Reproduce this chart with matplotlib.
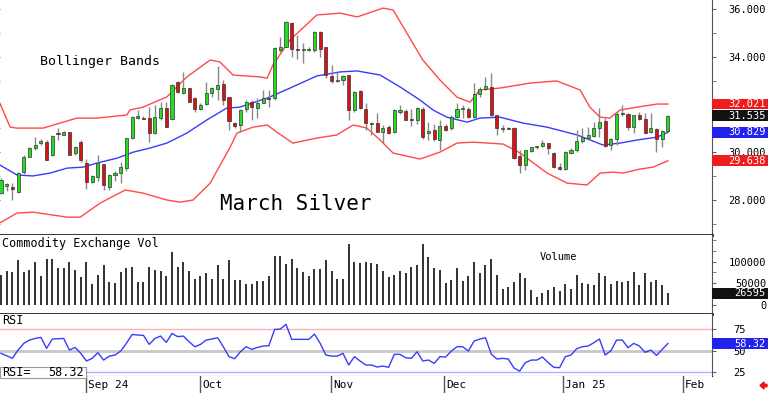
import numpy as np
import matplotlib
matplotlib.use("Agg")
import matplotlib.pyplot as plt
import matplotlib.transforms as mtransforms
from matplotlib.patches import Rectangle, FancyArrow
from matplotlib.ticker import MultipleLocator, FixedLocator, FormatStrFormatter

plt.rcParams['font.family'] = ['DejaVu Sans Mono', 'DejaVu Sans']

# daily candles, March silver (trading-day index 0..117)
opens = [28.27, 28.58, 28.52, 28.31, 29.18, 29.81, 30.16, 30.37, 30.44, 29.88,
         30.80, 30.72, 30.83, 29.95, 30.44, 29.55, 28.73, 28.94, 29.49, 28.55,
         29.04, 29.11, 29.32, 30.58, 31.45, 31.45, 31.42, 30.79, 31.42, 31.84,
         31.38, 32.96, 32.47, 32.68, 32.29, 31.80, 32.01, 32.47, 32.65, 32.87,
         32.30, 31.22, 31.14, 31.80, 32.12, 31.87, 32.08, 32.28, 32.26, 34.30,
         34.43, 35.41, 34.35, 34.27, 34.30, 34.27, 35.04, 34.43, 33.20, 32.99,
         33.01, 33.24, 31.77, 32.57, 31.80, 31.20, 31.21, 30.86, 31.07, 30.86,
         31.70, 31.73, 31.38, 31.35, 31.80, 30.80, 30.93, 30.51, 31.11, 31.00,
         31.49, 31.80, 31.80, 31.49, 32.43, 32.64, 32.75, 31.56, 30.98, 31.03,
         31.00, 29.85, 29.46, 30.03, 30.20, 30.27, 30.37, 29.95, 29.39, 29.28,
         29.98, 30.09, 30.48, 30.58, 30.68, 31.03, 31.31, 30.30, 30.54, 31.60,
         31.60, 31.05, 31.56, 31.38, 30.84, 30.96, 30.55, 30.90]
highs = [28.90, 28.72, 28.72, 29.18, 29.90, 30.20, 30.65, 30.55, 30.50, 30.70,
         31.00, 30.87, 30.85, 30.25, 30.50, 29.70, 29.05, 29.90, 29.50, 29.10,
         29.20, 29.60, 30.60, 31.50, 31.75, 31.50, 31.90, 31.98, 32.10, 32.10,
         32.85, 32.98, 33.38, 32.70, 32.30, 32.05, 32.96, 32.75, 33.60, 33.05,
         32.30, 31.25, 31.80, 32.20, 32.20, 32.26, 32.61, 32.61, 34.40, 34.85,
         35.50, 35.48, 34.90, 34.57, 34.40, 35.08, 35.10, 34.43, 33.66, 33.38,
         33.24, 33.26, 32.56, 32.60, 32.05, 31.28, 31.63, 31.14, 31.12, 31.80,
         32.00, 31.80, 31.80, 31.90, 31.90, 31.28, 31.20, 31.35, 31.20, 31.55,
         32.05, 31.98, 31.90, 32.89, 32.75, 33.17, 33.31, 31.58, 31.14, 31.07,
         31.05, 30.09, 30.09, 30.23, 30.25, 30.51, 30.40, 30.00, 29.53, 30.05,
         30.16, 30.93, 31.00, 31.07, 31.28, 31.84, 31.42, 30.58, 31.70, 31.98,
         31.63, 31.56, 31.70, 31.63, 31.63, 31.00, 30.93, 31.56]
lows = [28.25, 28.35, 28.00, 28.30, 29.10, 29.78, 30.10, 30.30, 29.65, 29.85,
        30.50, 30.70, 29.88, 29.90, 29.60, 28.45, 28.70, 28.80, 28.41, 28.41,
        28.80, 28.69, 29.20, 30.55, 31.40, 31.38, 30.44, 30.76, 31.35, 31.05,
        31.35, 32.50, 32.45, 32.10, 31.70, 31.78, 32.00, 32.30, 32.20, 31.98,
        30.92, 31.00, 30.85, 31.70, 31.35, 31.42, 32.05, 31.91, 32.20, 34.20,
        34.40, 34.00, 33.90, 33.73, 34.25, 34.20, 34.00, 33.10, 32.90, 32.96,
        32.82, 31.35, 31.70, 31.80, 30.93, 30.72, 30.84, 30.37, 30.77, 30.80,
        31.60, 31.33, 31.10, 31.20, 30.55, 30.51, 30.47, 30.09, 30.88, 30.95,
        31.45, 31.42, 31.42, 31.42, 32.30, 32.60, 31.52, 30.72, 30.84, 30.97,
        29.70, 29.11, 29.25, 30.00, 30.15, 30.20, 29.93, 29.35, 29.25, 29.25,
        29.93, 30.02, 30.37, 30.55, 30.65, 30.65, 30.23, 30.10, 30.30, 31.52,
        30.93, 30.80, 31.35, 30.79, 30.80, 30.02, 30.23, 30.86]
closes = [28.83, 28.66, 28.45, 29.11, 29.81, 30.16, 30.30, 30.47, 29.67, 30.68,
          30.76, 30.83, 29.90, 30.20, 29.67, 28.76, 29.00, 29.53, 28.62, 29.04,
          29.14, 29.39, 30.58, 31.46, 31.52, 31.42, 30.79, 31.49, 31.87, 31.07,
          32.82, 32.54, 32.68, 32.12, 31.80, 32.00, 32.47, 32.68, 32.82, 32.19,
          31.31, 31.08, 31.77, 32.12, 31.91, 32.08, 32.26, 32.25, 34.36, 34.43,
          35.48, 34.32, 34.30, 34.32, 34.33, 35.04, 34.34, 33.24, 32.99, 33.03,
          33.20, 31.77, 32.54, 31.84, 31.21, 31.24, 30.86, 31.00, 30.79, 31.77,
          31.77, 31.35, 31.35, 31.84, 30.62, 30.90, 30.54, 31.10, 30.93, 31.49,
          31.81, 31.82, 31.46, 32.43, 32.64, 32.78, 31.56, 31.00, 31.00, 31.00,
          29.74, 29.46, 30.09, 30.20, 30.22, 30.40, 30.19, 29.39, 29.28, 30.02,
          30.09, 30.48, 30.65, 30.72, 31.00, 31.28, 30.26, 30.54, 31.60, 31.65,
          31.04, 31.56, 31.38, 30.82, 31.03, 30.55, 30.90, 31.535]

# Bollinger bands (index, price)
upper_idx = [-0.2, 1.6, 2.8, 7.4, 13.3, 16.8, 22.1, 22.6, 24.9, 29.1, 32.6, 36.7,
             38.4, 40.7, 45.4, 46.7, 47.7, 50.7, 55.4, 59.5, 62.5, 67.0, 68.8,
             71.2, 74.0, 77.0, 80.0, 82.3, 84.0, 87.5, 92.8, 97.5, 101.6, 103.3,
             105.1, 106.8, 108.6, 111.6, 115.1, 117]
upper_val = [32.06, 31.05, 31.01, 31.01, 31.43, 31.43, 31.56, 31.77, 31.89, 32.32,
             33.16, 33.87, 33.79, 33.24, 33.16, 33.11, 33.66, 34.71, 35.76, 35.84,
             35.68, 36.05, 35.97, 35.00, 33.87, 33.03, 32.31, 32.10, 32.61, 32.69,
             32.90, 32.99, 32.61, 31.89, 31.47, 31.43, 31.77, 31.89, 32.02, 32.021]
mid_idx = [-0.2, 2.8, 5.6, 8.6, 11.6, 14.4, 16.8, 20.4, 23.2, 26.1, 29.1, 32.6,
           36.1, 39.6, 41.9, 46.7, 50.7, 55.4, 59.5, 62.5, 66.5, 70.0, 73.5,
           75.8, 78.2, 81.8, 84.0, 87.5, 91.6, 95.8, 101.1, 105.6, 108.6, 111.6,
           115.1, 117]
mid_val = [29.46, 29.04, 29.00, 29.12, 29.33, 29.37, 29.54, 29.75, 30.00, 30.17,
           30.38, 30.80, 31.35, 31.85, 31.89, 32.27, 32.69, 33.20, 33.37, 33.41,
           33.24, 32.74, 32.19, 31.77, 31.47, 31.26, 31.43, 31.47, 31.22, 31.05,
           30.72, 30.30, 30.38, 30.51, 30.63, 30.829]
lower_idx = [-0.2, 2.8, 5.6, 11.6, 13.9, 17.4, 21.8, 24.9, 29.1, 31.4, 33.7, 36.7,
             40.2, 41.4, 44.2, 46.7, 48.4, 51.2, 55.4, 58.9, 61.8, 64.2, 66.5,
             68.8, 73.5, 77.0, 80.0, 82.8, 88.1, 91.1, 95.8, 99.3, 102.8, 105.1,
             107.4, 109.1, 112.1, 114.4, 117]
lower_val = [27.03, 27.44, 27.48, 27.27, 27.27, 27.86, 28.41, 28.28, 27.99, 27.90,
             27.99, 28.70, 30.21, 30.80, 31.05, 31.14, 30.84, 30.38, 30.59, 30.72,
             31.14, 31.01, 30.51, 29.96, 29.71, 30.00, 30.38, 30.42, 30.34, 29.96,
             29.12, 28.70, 28.62, 29.12, 29.16, 29.12, 29.29, 29.37, 29.638]

# volume (contracts)
volume = [70000, 78000, 76000, 104000, 75000, 81000, 98000, 66000, 106000, 106000,
          86000, 86000, 100000, 81000, 64000, 98000, 49000, 68000, 92000, 53000,
          50000, 75000, 84000, 88000, 53000, 52000, 88000, 80000, 78000, 66000,
          122000, 88000, 98000, 78000, 60000, 66000, 73000, 60000, 92000, 60000,
          104000, 57000, 58000, 49000, 49000, 54000, 54000, 66000, 112000, 112000,
          94000, 107000, 86000, 75000, 66000, 82000, 82000, 104000, 78000, 60000,
          60000, 142000, 100000, 96000, 98000, 96000, 94000, 78000, 64000, 69000,
          78000, 73000, 88000, 92000, 142000, 110000, 84000, 80000, 50000, 58000,
          86000, 54000, 66000, 100000, 73000, 92000, 106000, 68000, 37000, 42000,
          53000, 73000, 62000, 34000, 17000, 28000, 33000, 41000, 32000, 48000,
          37000, 68000, 50000, 48000, 45000, 73000, 66000, 48000, 56000, 53000,
          54000, 76000, 45000, 74000, 53000, 58000, 46000, 26595]

# RSI (14)
rsi = [46.9, 44.2, 41.2, 50.8, 58.5, 62.3, 64.2, 65.4, 52.7, 63.5,
       63.8, 64.2, 50.8, 53.8, 46.9, 38.1, 41.2, 47.7, 39.2, 43.8,
       45.0, 49.6, 58.5, 68.8, 68.1, 67.7, 57.3, 64.2, 66.9, 59.6,
       70.0, 66.2, 66.9, 60.4, 54.6, 57.3, 62.3, 63.5, 65.0, 54.6,
       43.1, 40.8, 48.8, 54.6, 51.5, 53.8, 55.4, 55.8, 74.6, 75.0,
       80.4, 63.1, 63.1, 63.1, 63.1, 69.2, 58.5, 45.0, 43.8, 43.8,
       46.9, 33.5, 43.1, 38.1, 33.5, 33.5, 31.2, 32.3, 30.8, 45.8,
       45.8, 41.9, 41.2, 48.8, 38.1, 39.2, 35.4, 43.1, 42.7, 49.6,
       54.6, 54.6, 49.6, 61.2, 63.5, 65.0, 46.2, 40.4, 41.2, 40.4,
       30.0, 26.5, 36.2, 39.2, 39.2, 42.7, 36.2, 30.8, 30.4, 43.1,
       45.0, 52.3, 54.6, 55.4, 59.2, 63.5, 45.0, 50.0, 62.3, 62.3,
       53.5, 58.5, 55.4, 48.1, 50.8, 44.6, 51.5, 58.32]

month_pos = [14.9, 34.9, 57.9, 77.7, 98.6, 119.6]
month_labels = ['Sep 24', 'Oct', 'Nov', 'Dec', 'Jan 25', 'Feb']

W, H = 768, 393
RFS = 7.5   # right-hand scale font size
fig = plt.figure(figsize=(W / 100, H / 100), dpi=100)
fig.patch.set_facecolor('white')

def rect(top, bottom):
    return [0, (H - bottom) / H, 712 / W, (bottom - top) / H]

ax_p = fig.add_axes(rect(0, 235))
ax_v = fig.add_axes(rect(235, 314))
ax_r = fig.add_axes(rect(314, 376))
ax_d = fig.add_axes(rect(376, 393))

x = np.arange(len(closes))
xlim = (-1 / 5.7, 711 / 5.7)
for a in (ax_p, ax_v, ax_r, ax_d):
    a.set_xlim(*xlim)
    a.set_xticks([])
    for s in ('top', 'left'):
        a.spines[s].set_visible(False)
    a.spines['right'].set_color('#555555')
    a.spines['bottom'].set_color('#222222')

# ---- price panel
o = np.array(opens); c = np.array(closes)
ax_p.vlines(x, lows, highs, color='#888888', lw=1.0, zorder=2)
body = np.where(np.abs(c - o) < 0.04, 0.04 * np.sign(c - o + 1e-9), c - o)
cols = np.where(c >= o, '#22dd22', '#dd1111')
ax_p.bar(x, body, bottom=o, width=0.55, color=cols, edgecolor='#333333', lw=0.5, zorder=3)
ax_p.plot(upper_idx, upper_val, color='#ff4a4a', lw=1.0, zorder=1)
ax_p.plot(lower_idx, lower_val, color='#ff4a4a', lw=1.0, zorder=1)
ax_p.plot(mid_idx, mid_val, color='#3a3aff', lw=1.0, zorder=1)
ax_p.set_ylim(26.52, 36.39)
ax_p.spines['bottom'].set_linewidth(2)
ax_p.yaxis.set_major_locator(FixedLocator([28, 30, 32, 34, 36]))
ax_p.yaxis.set_minor_locator(MultipleLocator(1))
ax_p.yaxis.set_major_formatter(FormatStrFormatter('%.3f'))
ax_p.yaxis.set_ticks_position('both')
ax_p.tick_params(axis='y', which='both', labelleft=False, labelright=True,
                 direction='out', length=3, color='#666666', labelsize=RFS, pad=9)
ax_p.text(40 / 712, 1 - 62 / 235, 'Bollinger Bands', transform=ax_p.transAxes,
          fontsize=9.5, va='center', ha='left')
ax_p.text(220 / 712, 1 - 204 / 235, 'March Silver', transform=ax_p.transAxes,
          fontsize=15, va='center', ha='left')

def value_box(ax, y, txt, color, h):
    tr = mtransforms.blended_transform_factory(ax.transAxes, ax.transData)
    ax.add_patch(Rectangle((1.0, y - h / 2), 56 / 712, h, transform=tr,
                           facecolor=color, edgecolor='none', clip_on=False, zorder=6))
    ax.text(1.0 + 54 / 712, y, txt, transform=tr, ha='right', va='center',
            color='white', fontsize=RFS, clip_on=False, zorder=7)

value_box(ax_p, 32.021, '32.021', '#ee1c1c', 0.46)
value_box(ax_p, 31.535, '31.535', '#111111', 0.46)
value_box(ax_p, 30.829, '30.829', '#2222ee', 0.46)
value_box(ax_p, 29.638, '29.638', '#ee1c1c', 0.46)

# ---- volume panel
ax_v.vlines(x, 0, volume, color='#222222', lw=1.3)
ax_v.set_ylim(-22000, 162000)
ax_v.spines['bottom'].set_linewidth(2)
ax_v.yaxis.tick_right()
ax_v.yaxis.set_major_locator(FixedLocator([0, 50000, 100000]))
ax_v.yaxis.set_minor_locator(MultipleLocator(25000))
ax_v.yaxis.set_major_formatter(FormatStrFormatter('%d'))
ax_v.tick_params(axis='y', which='both', direction='out', length=3, color='#666666',
                 labelsize=RFS, pad=36)
for lab in ax_v.get_yticklabels():
    lab.set_ha('right')
ax_v.text(2 / 712, 1 - 8 / 79, 'Commodity Exchange Vol', transform=ax_v.transAxes,
          fontsize=8.5, va='center', ha='left')
ax_v.text(558 / 712, 1 - 22 / 79, 'Volume', transform=ax_v.transAxes,
          fontsize=7.5, va='center', ha='center')
value_box(ax_v, 26595, '26595', '#111111', 11 / 42.8 * 100000)

# ---- RSI panel
ax_r.axhline(75, color='#ffb0b0', lw=1.0)
ax_r.axhline(50, color='#c8c8c8', lw=2.0)
ax_r.axhline(25, color='#b0b0ff', lw=1.0)
ax_r.plot(x, rsi, color='#3a3aff', lw=1.0)
ax_r.set_ylim(20.8, 92.4)
ax_r.yaxis.tick_right()
ax_r.yaxis.set_major_locator(FixedLocator([25, 50, 75]))
ax_r.yaxis.set_major_formatter(FormatStrFormatter('%d'))
ax_r.tick_params(axis='y', direction='out', length=3, color='#666666', labelsize=RFS, pad=12)
ax_r.text(2 / 712, 1 - 7 / 62, 'RSI', transform=ax_r.transAxes,
          fontsize=8.5, va='center', ha='left')
value_box(ax_r, 58.32, '58.32', '#2222ee', 11 / 0.866)

fig.add_artist(Rectangle((0, (H - 378) / H), 86 / W, 11 / H, transform=fig.transFigure,
                         facecolor='white', edgecolor='#999999', lw=0.8, zorder=10))
fig.text(2 / W, (H - 372.5) / H, 'RSI=', fontsize=8.5, va='center', ha='left', zorder=11)
fig.text(84 / W, (H - 372.5) / H, '58.32', fontsize=8.5, va='center', ha='right', zorder=11)

# ---- date strip
ax_d.set_ylim(0, 1)
ax_d.spines['bottom'].set_visible(False)
ax_d.spines['right'].set_visible(False)
ax_d.set_yticks([])
for pos, lab in zip(month_pos, month_labels):
    ax_d.axvline(pos, color='#555555', lw=1.0)
    ax_d.text(pos + 0.35, 0.45, lab, fontsize=8, va='center', ha='left')

fig.add_artist(FancyArrow(7.67, 0.075, -0.07, 0, width=0.025, head_width=0.07,
                          head_length=0.04, length_includes_head=True,
                          transform=fig.dpi_scale_trans, color='#ee1111'))

fig.savefig('out.png', dpi=100)
